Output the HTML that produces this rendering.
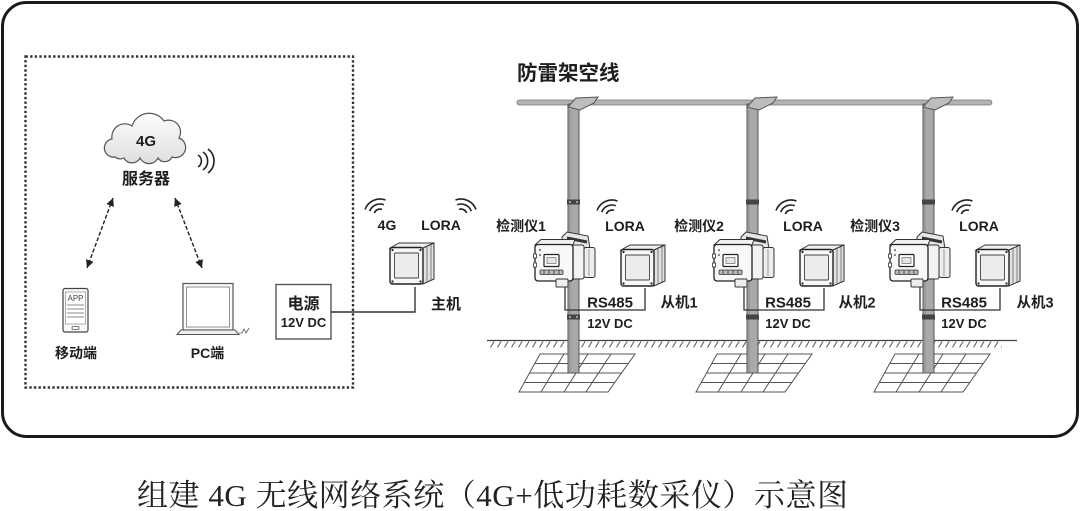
<!DOCTYPE html>
<html><head><meta charset="utf-8"><style>
html,body{margin:0;padding:0;background:#fff;}
svg{display:block;}
.t{font-family:"Liberation Sans","Noto Sans CJK SC",sans-serif;font-weight:bold;fill:#1e1e1e;}
</style></head><body>
<svg width="1080" height="511" viewBox="0 0 1080 511" xmlns="http://www.w3.org/2000/svg">
<defs>
<marker id="ah" viewBox="0 0 10 10" refX="10" refY="5" markerWidth="8" markerHeight="8" markerUnits="userSpaceOnUse" orient="auto-start-reverse">
<path d="M0,0 L10,5 L0,10 z" fill="#222"/></marker>
<pattern id="hatch" width="7" height="7" patternUnits="userSpaceOnUse" patternTransform="translate(0,341)">
<line x1="0.5" y1="6.5" x2="4" y2="0.5" stroke="#555" stroke-width="1"/></pattern>
<linearGradient id="cg" x1="0" y1="0" x2="0" y2="1"><stop offset="0" stop-color="#fdfdfd"/><stop offset="1" stop-color="#dedede"/></linearGradient>

<g id="box">
 <polygon points="621,250 630,245 665,245 654,250" fill="#f0f0f0" stroke="#333" stroke-width="1"/>
 <polygon points="654,250 665,245 665,281 654,286" fill="#e2e2e2" stroke="#333" stroke-width="1"/>
 <line x1="658" y1="249" x2="658" y2="284" stroke="#666" stroke-width="0.8"/>
 <line x1="662" y1="247" x2="662" y2="282" stroke="#666" stroke-width="0.8"/>
 <rect x="621" y="249.5" width="33" height="36.5" rx="2.5" fill="#f7f7f7" stroke="#222" stroke-width="1.4"/>
 <rect x="625.5" y="255" width="24" height="25" rx="1" fill="#ececec" stroke="#444" stroke-width="0.9"/>
 <circle cx="623.5" cy="252" r="1.1" fill="#222"/><circle cx="651.5" cy="252" r="1.1" fill="#222"/>
 <circle cx="623.5" cy="283.5" r="1.1" fill="#222"/><circle cx="651.5" cy="283.5" r="1.1" fill="#222"/>
</g>

<g id="det">
 <polygon points="562,237 567,232 588,236 590,249 563,249" fill="#e6e6e6" stroke="#333" stroke-width="1"/>
 <line x1="567" y1="238" x2="587" y2="242" stroke="#333" stroke-width="3"/>
 <rect x="572" y="245" width="12" height="34" rx="2" fill="#f3f3f3" stroke="#333" stroke-width="1"/>
 <rect x="584" y="247.5" width="11" height="30" rx="2" fill="#ededed" stroke="#333" stroke-width="1"/>
 <line x1="589" y1="249" x2="589" y2="276" stroke="#777" stroke-width="0.7"/>
 <polygon points="535,245 541,239.5 575,239.5 573,245" fill="#f0f0f0" stroke="#333" stroke-width="1"/>
 <rect x="535" y="244.5" width="38" height="36.5" rx="3" fill="#f8f8f8" stroke="#222" stroke-width="1.3"/>
 <rect x="533.5" y="254" width="3" height="4" fill="#fff" stroke="#333" stroke-width="0.8"/>
 <rect x="533.5" y="263" width="3" height="4" fill="#fff" stroke="#333" stroke-width="0.8"/>
 <circle cx="540" cy="250" r="0.9" fill="#333"/><circle cx="540" cy="255" r="0.9" fill="#333"/>
 <rect x="544" y="254.5" width="15" height="12" rx="1" fill="#fff" stroke="#222" stroke-width="1.2"/>
 <rect x="547" y="257.5" width="9" height="6" fill="#e6e6e6" stroke="#555" stroke-width="0.6"/>
 <rect x="540" y="270" width="23" height="4.5" rx="1" fill="#bbb" stroke="#333" stroke-width="0.8"/>
 <line x1="544" y1="270" x2="544" y2="274.5" stroke="#333" stroke-width="0.8"/>
 <line x1="549" y1="270" x2="549" y2="274.5" stroke="#333" stroke-width="0.8"/>
 <line x1="554" y1="270" x2="554" y2="274.5" stroke="#333" stroke-width="0.8"/>
 <line x1="559" y1="270" x2="559" y2="274.5" stroke="#333" stroke-width="0.8"/>
 <rect x="556" y="279" width="12" height="8" rx="1" fill="#eee" stroke="#333" stroke-width="1"/>
</g>

<g id="grid" fill="none" stroke="#555" stroke-width="1">
 <polygon points="540,354 635,354 608,392 519,392"/>
 <line x1="534.75" y1="363.5" x2="628.25" y2="363.5"/>
 <line x1="529.5" y1="373" x2="621.5" y2="373"/>
 <line x1="524.25" y1="382.5" x2="614.75" y2="382.5"/>
 <line x1="564" y1="354" x2="541" y2="392"/>
 <line x1="588" y1="354" x2="564" y2="392"/>
 <line x1="611" y1="354" x2="586" y2="392"/>
</g>

<g id="wifiL" fill="none" stroke="#222" stroke-width="1.6">
 <path d="M-5.6,-2.0 A6,6 0 0 1 2.0,-5.6"/>
 <path d="M-10.3,-3.8 A11,11 0 0 1 3.8,-10.3"/>
 <path d="M-15.0,-5.5 A16,16 0 0 1 5.5,-15.0"/>
</g>
</defs>

<!-- outer frame -->
<rect x="2.5" y="2.5" width="1075" height="434" rx="24" fill="#fff" stroke="#1a1a1a" stroke-width="3"/>

<!-- dotted box -->
<rect x="25.5" y="56.5" width="327.5" height="331" fill="none" stroke="#333" stroke-width="2.4" stroke-dasharray="2.4 2.2"/>

<!-- cloud -->
<path d="M115,157 A9,9 0 0 1 112,139 A13,13 0 0 1 132,126 A18,18 0 0 1 164,121 A12,12 0 0 1 179,138 A10,10 0 0 1 172,157 A8,8 0 0 1 158,158 A10,10 0 0 1 140,158 A9,9 0 0 1 124,158 A8,8 0 0 1 115,157 Z" fill="url(#cg)" stroke="#555" stroke-width="1.2"/>
<text class="t" x="146" y="146" font-size="15" text-anchor="middle">4G</text>
<text class="t" x="146" y="184" font-size="16" text-anchor="middle">服务器</text>
<g fill="none" stroke="#222" stroke-width="1.6">
 <path d="M198,155 A7,7 0 0 1 198,167"/>
 <path d="M203,152 A11,11 0 0 1 203,170"/>
 <path d="M208,149 A15,15 0 0 1 208,173"/>
</g>

<!-- arrows -->
<line x1="113" y1="198" x2="87" y2="268" stroke="#222" stroke-width="1.4" stroke-dasharray="4 2" marker-start="url(#ah)" marker-end="url(#ah)"/>
<line x1="175" y1="198" x2="202" y2="268" stroke="#222" stroke-width="1.4" stroke-dasharray="4 2" marker-start="url(#ah)" marker-end="url(#ah)"/>

<!-- phone -->
<rect x="63" y="288.5" width="25" height="43.5" rx="2" fill="#fafafa" stroke="#444" stroke-width="1.2"/>
<rect x="65.5" y="292" width="20" height="32" fill="#fff" stroke="#777" stroke-width="0.6"/>
<text x="75.5" y="301" font-family="Liberation Sans, sans-serif" font-size="8" text-anchor="middle" fill="#444">APP</text>
<g stroke="#888" stroke-width="1"><line x1="67" y1="305" x2="84" y2="305"/><line x1="67" y1="309" x2="84" y2="309"/><line x1="67" y1="313" x2="84" y2="313"/><line x1="67" y1="317" x2="84" y2="317"/></g>
<rect x="72" y="326.5" width="7" height="3" rx="1" fill="none" stroke="#555" stroke-width="0.8"/>
<text class="t" x="76" y="358" font-size="14" text-anchor="middle">移动端</text>

<!-- laptop -->
<rect x="183" y="283.5" width="50" height="46.5" fill="#fafafa" stroke="#555" stroke-width="1.2"/>
<rect x="186.5" y="287" width="43" height="40" fill="#fff" stroke="#777" stroke-width="0.8"/>
<polygon points="177,334.5 181,330 235,330 239,334.5" fill="#eee" stroke="#555" stroke-width="1"/>
<path d="M239,333 L242,333 L244,329 L246,333 L249,328" fill="none" stroke="#555" stroke-width="0.8"/>
<text class="t" x="207.5" y="358" font-size="14" text-anchor="middle">PC端</text>

<!-- power box -->
<rect x="276" y="284.5" width="55" height="54.5" fill="#fff" stroke="#555" stroke-width="1.4"/>
<text class="t" x="303.5" y="309" font-size="16" text-anchor="middle">电源</text>
<text class="t" x="303.5" y="327" font-size="13" text-anchor="middle">12V DC</text>
<path d="M331,312 H415 V287" fill="none" stroke="#333" stroke-width="1.4"/>

<!-- host -->
<use href="#box" transform="translate(-231,-2)"/>
<text class="t" x="387" y="230" font-size="14" text-anchor="middle">4G</text>
<text class="t" x="441" y="230" font-size="14" text-anchor="middle">LORA</text>
<text class="t" x="446" y="309" font-size="15" text-anchor="middle">主机</text>
<use href="#wifiL" transform="translate(380,215)"/>
<use href="#wifiL" transform="translate(461,215) scale(-1,1)"/>

<!-- title -->
<text class="t" x="517" y="80" font-size="20.5">防雷架空线</text>

<!-- ground -->
<line x1="487" y1="340.5" x2="1017" y2="340.5" stroke="#444" stroke-width="1.2"/>
<rect x="487" y="341" width="515" height="6.5" fill="url(#hatch)"/>
<use href="#grid"/>
<use href="#grid" transform="translate(177,0)"/>
<use href="#grid" transform="translate(355,0)"/>

<!-- wire -->
<rect x="517" y="100" width="475" height="5" rx="2.5" fill="#b3b3b3" stroke="#777" stroke-width="0.8"/>

<!-- groups -->
<g>
 <rect x="568" y="104" width="11" height="269" fill="#a9a9a9" stroke="#555" stroke-width="1"/>
 <line x1="570" y1="110" x2="570" y2="372" stroke="#8a8a8a" stroke-width="1"/>
 <polygon points="568,107 576,98 598,97 594,103 580,110" fill="#bdbdbd" stroke="#555" stroke-width="1"/>
 <rect x="567" y="199.5" width="13" height="5" fill="#444"/>
 <circle cx="570" cy="202" r="0.9" fill="#ddd"/><circle cx="577" cy="202" r="0.9" fill="#ddd"/>
 <path d="M565,287 V310 H645 V288" fill="none" stroke="#333" stroke-width="1.3"/>
 <rect x="567" y="314.5" width="13" height="5" fill="#444"/>
 <circle cx="570" cy="317" r="0.9" fill="#ddd"/><circle cx="577" cy="317" r="0.9" fill="#ddd"/>
 <use href="#det"/>
 <use href="#box"/>
 <use href="#wifiL" transform="translate(612,216)"/>
 <text class="t" x="521" y="231" font-size="14" text-anchor="middle">检测仪1</text>
 <text class="t" x="625" y="231" font-size="14" text-anchor="middle">LORA</text>
 <text class="t" x="610" y="307.5" font-size="15" text-anchor="middle">RS485</text>
 <text class="t" x="610" y="328" font-size="13" text-anchor="middle">12V DC</text>
 <text class="t" x="679" y="307.5" font-size="14.5" text-anchor="middle">从机1</text>
</g>

<g transform="translate(179,0)">
 <rect x="568" y="104" width="11" height="269" fill="#a9a9a9" stroke="#555" stroke-width="1"/>
 <line x1="570" y1="110" x2="570" y2="372" stroke="#8a8a8a" stroke-width="1"/>
 <polygon points="568,107 576,98 598,97 594,103 580,110" fill="#bdbdbd" stroke="#555" stroke-width="1"/>
 <rect x="567" y="199.5" width="13" height="5" fill="#444"/>
 <path d="M565,287 V310 H645 V288" fill="none" stroke="#333" stroke-width="1.3"/>
 <rect x="567" y="314.5" width="13" height="5" fill="#444"/>
 <use href="#det"/>
 <use href="#box"/>
 <use href="#wifiL" transform="translate(612,216)"/>
 <text class="t" x="520" y="231" font-size="14" text-anchor="middle">检测仪2</text>
 <text class="t" x="624" y="231" font-size="14" text-anchor="middle">LORA</text>
 <text class="t" x="609" y="307.5" font-size="15" text-anchor="middle">RS485</text>
 <text class="t" x="609" y="328" font-size="13" text-anchor="middle">12V DC</text>
 <text class="t" x="678" y="307.5" font-size="14.5" text-anchor="middle">从机2</text>
</g>

<g transform="translate(355,0)">
 <rect x="568" y="104" width="11" height="269" fill="#a9a9a9" stroke="#555" stroke-width="1"/>
 <line x1="570" y1="110" x2="570" y2="372" stroke="#8a8a8a" stroke-width="1"/>
 <polygon points="568,107 576,98 598,97 594,103 580,110" fill="#bdbdbd" stroke="#555" stroke-width="1"/>
 <rect x="567" y="199.5" width="13" height="5" fill="#444"/>
 <path d="M565,287 V310 H645 V288" fill="none" stroke="#333" stroke-width="1.3"/>
 <rect x="567" y="314.5" width="13" height="5" fill="#444"/>
 <use href="#det"/>
 <use href="#box"/>
 <use href="#wifiL" transform="translate(612,216)"/>
 <text class="t" x="520" y="231" font-size="14" text-anchor="middle">检测仪3</text>
 <text class="t" x="624" y="231" font-size="14" text-anchor="middle">LORA</text>
 <text class="t" x="609" y="307.5" font-size="15" text-anchor="middle">RS485</text>
 <text class="t" x="609" y="328" font-size="13" text-anchor="middle">12V DC</text>
 <text class="t" x="680" y="307.5" font-size="14.5" text-anchor="middle">从机3</text>
</g>

<!-- caption -->
<text x="137" y="506" font-family="'Liberation Serif','Noto Serif CJK SC',serif" font-size="31" fill="#222" textLength="711" lengthAdjust="spacing">组建 4G 无线网络系统（4G+低功耗数采仪）示意图</text>
</svg>
</body></html>
